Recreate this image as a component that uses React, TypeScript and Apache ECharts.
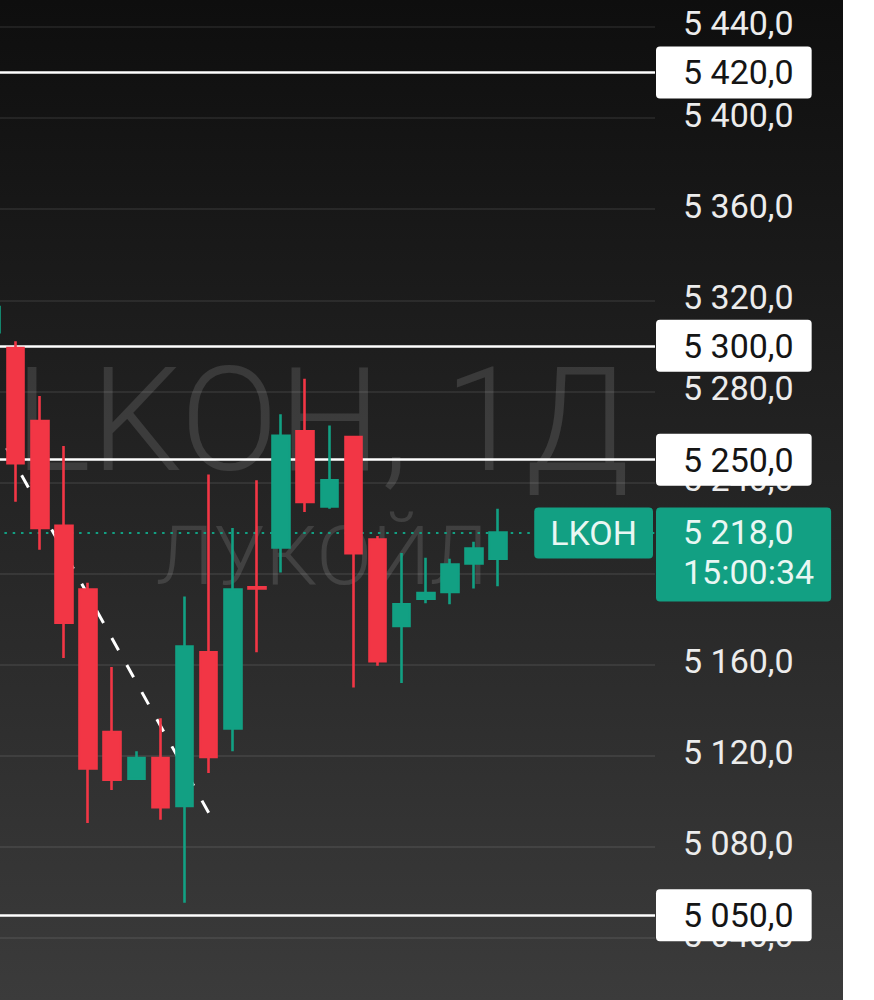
import React, { useEffect, useRef } from 'react';
import * as echarts from 'echarts';

// ---- data ----
const categories: string[] = [
  '01', '02', '03', '04', '05', '06', '07', '08', '09', '10',
  '11', '12', '13', '14', '15', '16', '17', '18', '19', '20',
  '21', '22', '23', '24', '25', '26', '27', '28',
];

// [open, close, low, high]
const candles: number[][] = [
  [5306, 5317, 5302, 5330],
  [5299, 5248.5, 5231.5, 5302],
  [5267, 5220, 5210.5, 5278],
  [5221, 5178.5, 5163, 5256],
  [5193, 5114.5, 5090.5, 5196],
  [5130.5, 5109.5, 5105, 5159],
  [5110, 5119, 5109.5, 5122],
  [5119, 5097.5, 5092, 5136.5],
  [5098, 5168, 5055.5, 5190],
  [5165.5, 5119.5, 5112.5, 5243.5],
  [5132, 5193, 5122, 5220],
  [5194, 5193.5, 5165.5, 5241],
  [5211.5, 5260.5, 5200.5, 5270],
  [5262.5, 5231.5, 5227, 5285.5],
  [5229.5, 5241, 5228.5, 5265],
  [5260, 5209, 5150, 5260],
  [5215, 5161.5, 5159.5, 5216.5],
  [5177, 5186.5, 5152, 5209],
  [5189, 5191.5, 5187, 5207],
  [5192, 5204, 5186.5, 5206.5],
  [5204.5, 5211, 5193.5, 5214],
  [5206.5, 5218, 5194.5, 5228.5],
];

const levels: number[] = [5420, 5300, 5250, 5050];
const lastPrice = 5218;
const lastTime = '15:00:34';
const ticker = 'LKOH';
const watermarkTitle = 'LKOH, 1Д';
const watermarkName = 'ЛУКОЙЛ';
const trendIdx: number[] = [0, 9];
const trendVal: number[] = [5267, 5095];
const yMin = 5000;
const yMax = 5480;
const yStep = 40;

const GREEN = '#12a083';
const RED = '#f23645';
const FONT = 'Roboto, "Noto Sans", sans-serif';

function fmt(v: number): string {
  const [i, d] = v.toFixed(1).split('.');
  return i.replace(/\B(?=(\d{3})+(?!\d))/g, ' ') + ',' + d;
}

export default function App() {
  const ref = useRef<HTMLDivElement>(null);

  useEffect(() => {
    if (!ref.current) return;
    const chart = echarts.init(ref.current, undefined, { renderer: 'svg' });

    const candleData = categories.map((_, i) => (i < candles.length ? candles[i] : '-'));
    const trendData = categories.map((_, i) => {
      const k = trendIdx.indexOf(i);
      return k >= 0 ? trendVal[k] : '-';
    });

    const option: any = {
      animation: false,
      backgroundColor: new echarts.graphic.LinearGradient(0, 0, 0, 1, [
        { offset: 0, color: '#0e0e0e' },
        { offset: 1, color: '#3b3b3b' },
      ]),
      grid: {
        left: -20.5,
        right: 188,
        top: -64.2,
        bottom: -29.2,
        containLabel: false,
        outerBoundsMode: 'none',
      },
      xAxis: {
        type: 'category',
        data: categories,
        boundaryGap: true,
        show: false,
      },
      yAxis: {
        type: 'value',
        position: 'right',
        min: yMin,
        max: yMax,
        interval: yStep,
        axisLine: { show: false },
        axisTick: { show: false },
        splitLine: { lineStyle: { color: 'rgba(255,255,255,0.075)', width: 2 } },
        axisLabel: {
          margin: 28,
          color: '#ececec',
          fontSize: 34,
          fontFamily: FONT,
          showMinLabel: false,
          showMaxLabel: false,
          formatter: (v: number) => '{t|' + fmt(v) + '}',
          rich: {
            t: {
              color: '#ececec',
              fontSize: 34,
              fontFamily: FONT,
              padding: [0, 0, 7, 0],
            },
          },
        },
      },
      series: [
        {
          type: 'line',
          data: trendData,
          connectNulls: true,
          symbol: 'none',
          z: 1,
          lineStyle: { color: '#ffffff', width: 3, type: [14, 17] },
        },
        {
          type: 'candlestick',
          data: candleData,
          barWidth: 17,
          z: 3,
          itemStyle: {
            color: GREEN,
            color0: RED,
            borderColor: GREEN,
            borderColor0: RED,
            borderWidth: 2.6,
          },
          markLine: {
            silent: true,
            z: 2,
            symbol: ['none', 'none'],
            data: [
              ...levels.map((v) => ({
                yAxis: v,
                lineStyle: { color: '#ffffff', width: 2.5, type: 'solid' },
                label: {
                  show: true,
                  position: 'end',
                  distance: 1,
                  formatter: () => fmt(v),
                  backgroundColor: '#ffffff',
                  color: '#151515',
                  fontSize: 34,
                  fontFamily: FONT,
                  lineHeight: 36,
                  padding: [7, 18, 9, 27],
                  borderRadius: 4,
                },
              })),
              {
                yAxis: lastPrice,
                lineStyle: { color: GREEN, width: 2.2, type: [2.5, 5.8] },
                label: { show: false },
              },
            ],
          },
        },
      ],
      graphic: [
        {
          type: 'text',
          x: 322,
          y: 420,
          z: 0,
          silent: true,
          style: {
            text: watermarkTitle,
            fill: 'rgba(255,255,255,0.12)',
            fontSize: 145,
            fontWeight: 300,
            fontFamily: FONT,
            align: 'center',
            verticalAlign: 'middle',
          },
        },
        {
          type: 'text',
          x: 322,
          y: 556,
          z: 0,
          silent: true,
          style: {
            text: watermarkName,
            fill: 'rgba(255,255,255,0.12)',
            fontSize: 82,
            fontWeight: 300,
            fontFamily: FONT,
            align: 'center',
            verticalAlign: 'middle',
          },
        },
      ],
    };

    chart.setOption(option);

    const py = chart.convertToPixel({ yAxisIndex: 0 }, lastPrice) as number;
    chart.setOption({
      graphic: [
        option.graphic[0],
        option.graphic[1],
        {
          type: 'text',
          x: 653,
          y: py - 25,
          z: 20,
          silent: true,
          style: {
            text: ticker,
            fill: '#e9f7f3',
            fontSize: 34,
            fontFamily: FONT,
            backgroundColor: GREEN,
            padding: [7, 16, 7, 16],
            lineHeight: 37,
            borderRadius: 4,
            align: 'right',
            verticalAlign: 'top',
          },
        },
        {
          type: 'text',
          x: 656,
          y: py - 25,
          z: 20,
          silent: true,
          style: {
            text: fmt(lastPrice) + '\n' + lastTime,
            fill: '#e9f7f3',
            fontSize: 34,
            fontFamily: FONT,
            backgroundColor: GREEN,
            padding: [4, 17, 10, 27],
            lineHeight: 40,
            borderRadius: 4,
            align: 'left',
            verticalAlign: 'top',
          },
        },
      ],
    });

    return () => chart.dispose();
  }, []);

  return (
    <div
      ref={ref}
      style={{ position: 'fixed', left: 0, top: 0, width: 843, height: 1000 }}
    />
  );
}
